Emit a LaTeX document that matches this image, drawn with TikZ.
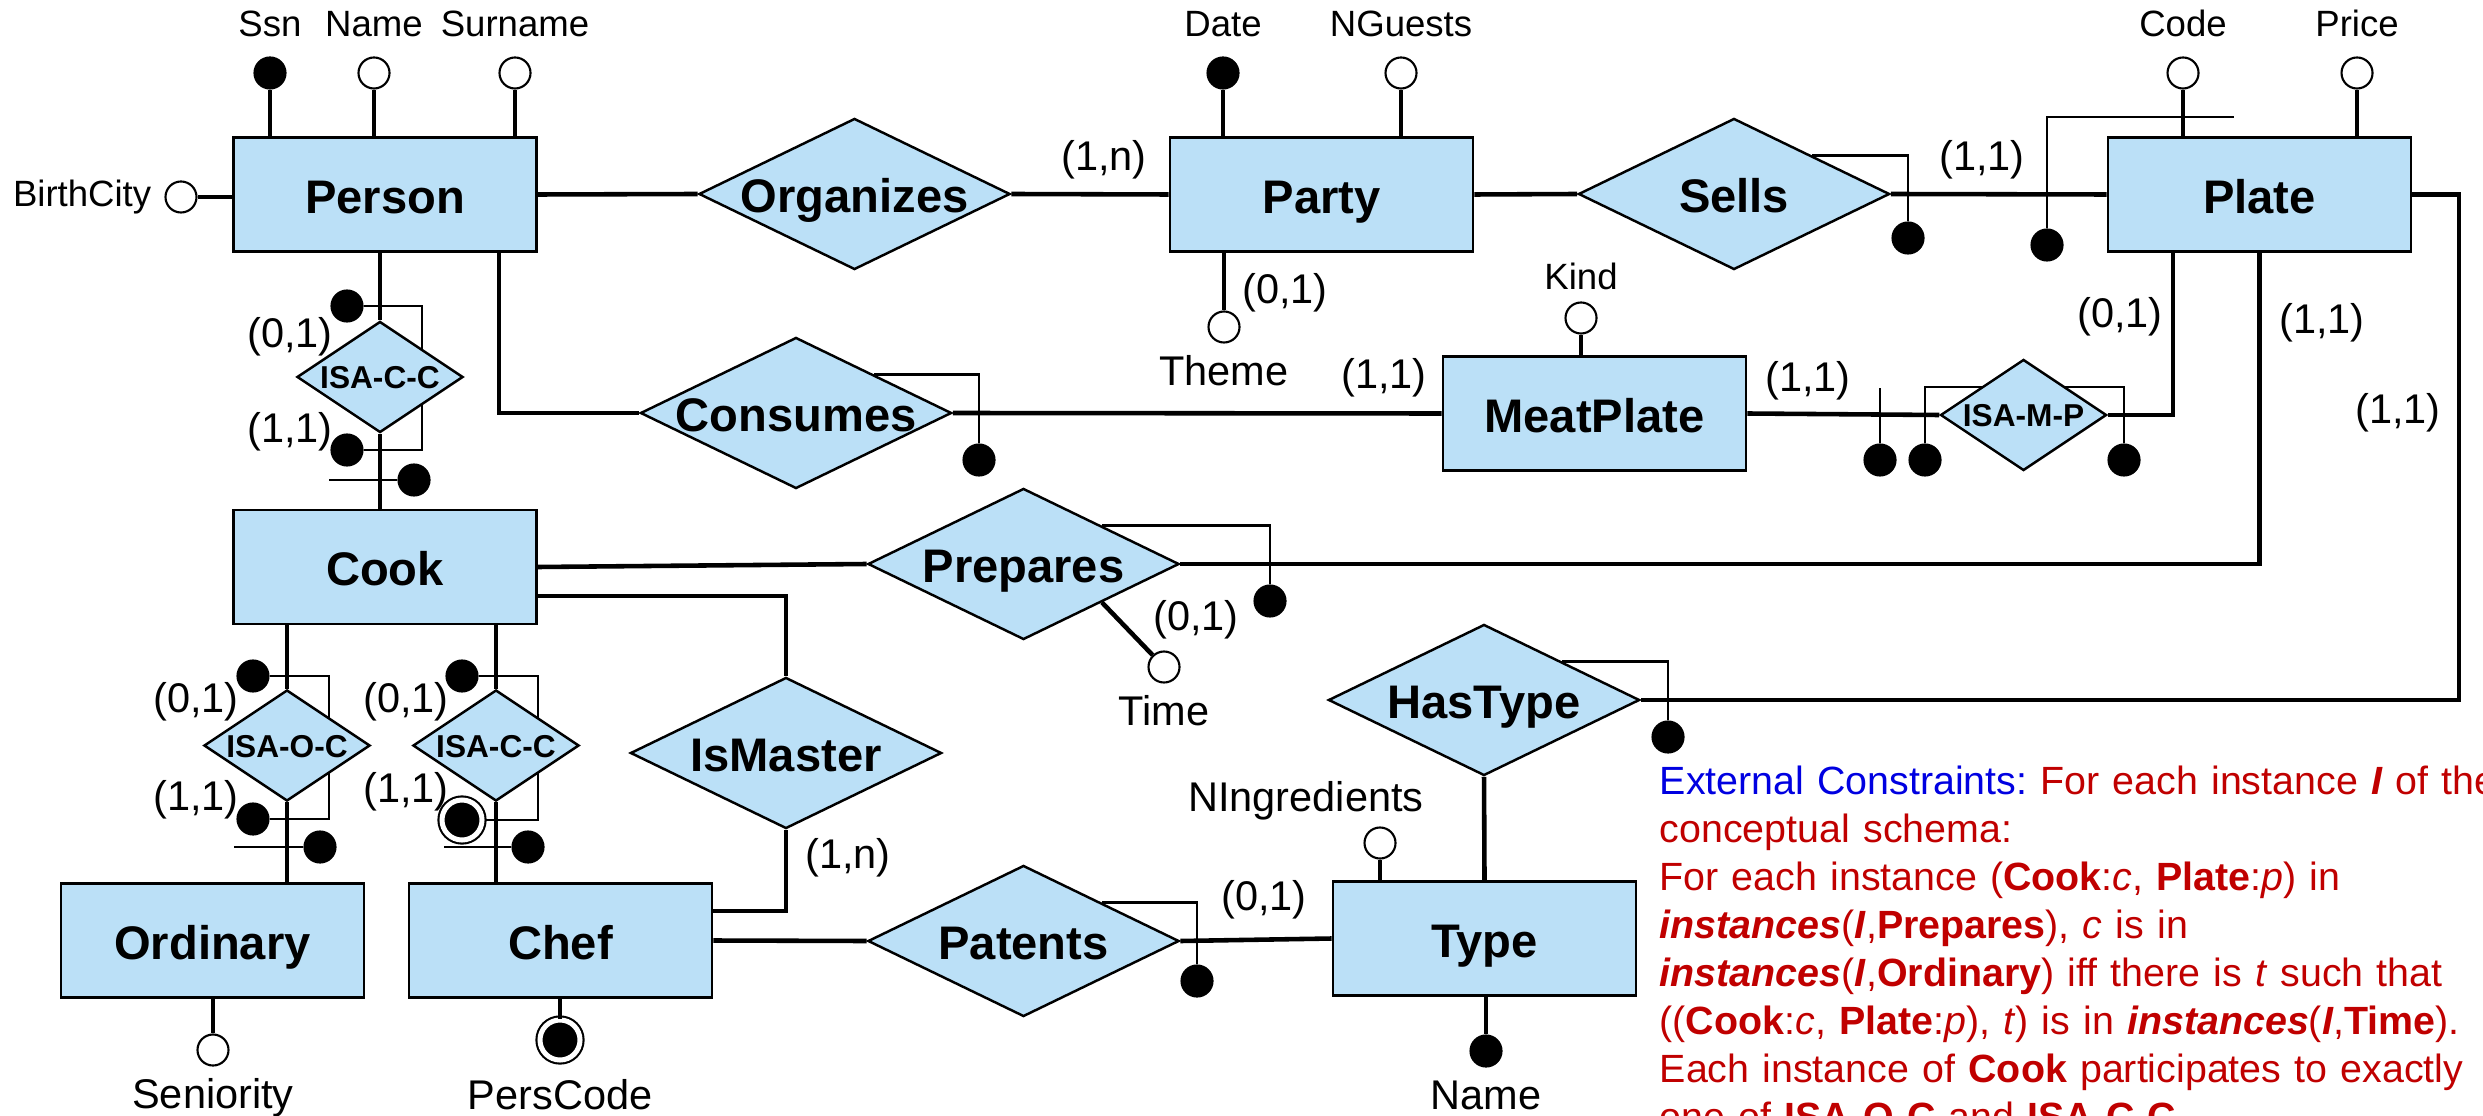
\documentclass[tikz,border=0pt]{standalone}
\usepackage{fontspec}
\setmainfont{Liberation Sans}
\usepackage{xcolor}
\usetikzlibrary{shapes.geometric}
\definecolor{erfill}{RGB}{187,224,247}
\definecolor{notered}{RGB}{192,0,0}
\definecolor{noteblue}{RGB}{0,0,225}
\newcommand{\entfont}{\fontsize{13.4pt}{16pt}\selectfont\bfseries}
\newcommand{\isafont}{\fontsize{9pt}{11pt}\selectfont\bfseries}
\newcommand{\attrfont}{\fontsize{10.4pt}{12pt}\selectfont}
\newcommand{\cardfont}{\fontsize{11.8pt}{14pt}\selectfont}
\newcommand{\notefont}{\fontsize{11.2pt}{13.66pt}\selectfont\frenchspacing}
\pgfdeclarelayer{background}
\pgfsetlayers{background,main}
\tikzset{
	entity/.style={draw,fill=erfill,line width=0.7pt,minimum width=3.03cm,minimum height=1.14cm,inner sep=0pt,text height=0.42cm,text depth=0.044cm,font=\entfont},%
	relation/.style={diamond,draw,fill=erfill,line width=0.7pt,minimum width=3.11cm,minimum height=1.51cm,inner sep=0pt,text height=0.42cm,text depth=0.044cm,font=\entfont},%
	isarel/.style={relation,minimum width=1.66cm,minimum height=1.11cm,text height=0.235cm,text depth=0cm,font=\isafont},%
	attribute/.style={circle,draw,fill=white,line width=0.6pt,minimum size=0.31cm,inner sep=0pt},%
	keyattr/.style={attribute,fill=black},%
	extkey/.style={keyattr,minimum size=0.4cm,double,double distance=0.05cm},%
	link/.style={line width=1.3pt},%
	bracket/.style={line width=0.7pt},%
	card/.style={font=\cardfont,inner sep=0pt},%
	toplabel/.style={font=\attrfont,text height=0.26cm,text depth=0.075cm,inner sep=1pt,label distance=0.085cm},%
	botlabel/.style={font=\cardfont,text height=0.3cm,text depth=0.085cm,inner sep=1pt,label distance=0.075cm},%
	note/.style={font=\notefont,text=notered,align=left,text width=9cm,inner sep=0pt},%
}

\begin{document}
\begin{tikzpicture}[x=0.01cm,y=-0.01cm]
	\useasboundingbox (0,0) rectangle (2483,1116);
	\clip (0,0) rectangle (2483,1116);
	\node[entity] (person) at (385,194.5) {Person};
	\node[entity] (party) at (1321.5,194.5) {Party};
	\node[entity] (plate) at (2259.5,194.5) {Plate};
	\node[entity] (meatplate) at (1594.5,413.5) {MeatPlate};
	\node[entity] (cook) at (385,567) {Cook};
	\node[entity] (ordinary) at (212.5,940.5) {Ordinary};
	\node[entity] (chef) at (560.5,940.5) {Chef};
	\node[entity] (type) at (1484.5,938.5) {Type};
	\node[relation] (organizes) at (854.5,194) {\makebox[0pt]{Organizes}};
	\node[relation] (sells) at (1734,194) {\makebox[0pt]{Sells}};
	\node[relation] (consumes) at (796,413) {\makebox[0pt]{Consumes}};
	\node[relation] (prepares) at (1023.5,564) {\makebox[0pt]{Prepares}};
	\node[relation] (hastype) at (1484,700) {\makebox[0pt]{HasType}};
	\node[relation] (ismaster) at (786,753) {\makebox[0pt]{IsMaster}};
	\node[relation] (patents) at (1023.5,941) {\makebox[0pt]{Patents}};
	\node[isarel] (isapc) at (380,377) {\makebox[0pt]{ISA-C-C}};
	\node[isarel] (isaoc) at (287,745.5) {\makebox[0pt]{ISA-O-C}};
	\node[isarel] (isacc) at (496,745.5) {\makebox[0pt]{ISA-C-C}};
	\node[isarel] (isamp) at (2023.5,415) {\makebox[0pt]{ISA-M-P}};
	\node[keyattr,label={[toplabel]above:Ssn}] (ssn) at (270,73) {};
	\node[attribute,label={[toplabel]above:Name}] (name) at (374,73) {};
	\node[attribute,label={[toplabel]above:Surname}] (surname) at (515,73) {};
	\node[attribute,label={[toplabel,label distance=0.09cm]left:BirthCity}] (birthcity) at (181,197) {};
	\node[keyattr,label={[toplabel]above:Date}] (date) at (1223,73) {};
	\node[attribute,label={[toplabel]above:NGuests}] (nguests) at (1401,73) {};
	\node[attribute,label={[botlabel]below:Theme}] (theme) at (1224,327) {};
	\node[attribute,label={[toplabel]above:Code}] (code) at (2183,73) {};
	\node[attribute,label={[toplabel]above:Price}] (price) at (2357,73) {};
	\node[attribute,label={[toplabel,label distance=0pt]above:Kind}] (kind) at (1581,318) {};
	\node[attribute,label={[botlabel]below:Time}] (time) at (1164,667) {};
	\node[attribute,label={[botlabel,label distance=0.02cm,xshift=-0.74cm]above:NIngredients}] (ningredients) at (1380,843) {};
	\node[keyattr,label={[botlabel]below:Name}] (typename) at (1486,1051) {};
	\node[attribute,label={[botlabel]below:Seniority}] (seniority) at (213,1050) {};
	\node[extkey,label={[botlabel,label distance=0.14cm]below:PersCode}] (perscode) at (560,1040) {};
	\node[keyattr] (sellsdot) at (1908,238) {};
	\node[keyattr] (platedot) at (2047,245) {};
	\node[keyattr] (consdot) at (979,460) {};
	\node[keyattr] (prepdot) at (1270,601) {};
	\node[keyattr] (hasdot) at (1668,737) {};
	\node[keyattr] (patdot) at (1197,981) {};
	\node[keyattr] (mpdot) at (1880,460) {};
	\node[keyattr] (isampa) at (1925,460) {};
	\node[keyattr] (isampb) at (2124,460) {};
	\node[keyattr] (isapca) at (347,306) {};
	\node[keyattr] (isapcb) at (347,450) {};
	\node[keyattr] (isapcbar) at (414,480) {};
	\node[keyattr] (isaoca) at (253,676) {};
	\node[keyattr] (isaocb) at (253,819) {};
	\node[keyattr] (isaocbar) at (320,847) {};
	\node[keyattr] (isacca) at (462,676) {};
	\node[extkey] (isaccb) at (462,820) {};
	\node[keyattr] (isaccbar) at (528,847) {};
	\coordinate (platekey) at (2234,117);
	\coordinate (platecorner) at (2459,194.5);
	\begin{pgfonlayer}{background}
		\draw[bracket] (sells.north east) -| (sellsdot);
		\draw[bracket] (consumes.north east) -| (consdot);
		\draw[bracket] (prepares.north east) -| (prepdot);
		\draw[bracket] (hastype.north east) -| (hasdot);
		\draw[bracket] (patents.north east) -| (patdot);
		\draw[bracket] (platedot) |- (platekey);
		\draw[bracket] (mpdot) -- ++(0,-72);
		\draw[bracket] (isampa) -- ++(0,-73) -| (isampb);
		\draw[bracket] (isapca) -- ++(75,0) |- (isapcb);
		\draw[bracket] (isapcbar) -- ++(-85,0);
		\draw[bracket] (isaoca) -- ++(76,0) |- (isaocb);
		\draw[bracket] (isaocbar) -- ++(-86,0);
		\draw[bracket] (isacca) -- ++(76,0) |- (isaccb);
		\draw[bracket] (isaccbar) -- ++(-84,0);
	\end{pgfonlayer}
	\draw[link] (person.east) -- (organizes.west);
	\draw[link] (organizes.east) -- (party.west);
	\draw[link] (party.east) -- (sells.west);
	\draw[link] (sells.east) -- (plate.west);
	\draw[link] ([xshift=1.14cm]person.south) |- (consumes.west);
	\draw[link] (consumes.east) -- (meatplate.west);
	\draw[link] (meatplate.east) -- (isamp.west);
	\draw[link] (isamp.east) -| ([xshift=-0.865cm]plate.south);
	\draw[link] (person.south -| isapc.north) -- (isapc.north);
	\draw[link] (isapc.south) -- (cook.north -| isapc.south);
	\draw[link] (cook.east) -- (prepares.west);
	\draw[link] (prepares.east) -| (plate.south);
	\draw[link] ([yshift=-0.29cm]cook.east) -| (ismaster.north);
	\draw[link] (ismaster.south) |- ([yshift=0.295cm]chef.east);
	\draw[link] (chef.east) -- (patents.west);
	\draw[link] (patents.east) -- (type.west);
	\draw[link] (hastype.south) -- (type.north);
	\draw[link] (plate.east) -- (platecorner) |- (hastype.east);
	\draw[link] (cook.south -| isaoc.north) -- (isaoc.north);
	\draw[link] (isaoc.south) -- (ordinary.north -| isaoc.south);
	\draw[link] (cook.south -| isacc.north) -- (isacc.north);
	\draw[link] (isacc.south) -- (chef.north -| isacc.south);
	\draw[link] (ssn) -- (ssn |- person.north);
	\draw[link] (name) -- (name |- person.north);
	\draw[link] (surname) -- (surname |- person.north);
	\draw[link] (birthcity) -- (birthcity -| person.west);
	\draw[link] (date) -- (date |- party.north);
	\draw[link] (nguests) -- (nguests |- party.north);
	\draw[link] (theme) -- (theme |- party.south);
	\draw[link] (code) -- (code |- plate.north);
	\draw[link] (price) -- (price |- plate.north);
	\draw[link] (kind) -- (kind |- meatplate.north);
	\draw[link] (prepares.south east) -- (time);
	\draw[link] (ningredients) -- (ningredients |- type.north);
	\draw[link] (typename) -- (typename |- type.south);
	\draw[link] (seniority) -- (seniority |- ordinary.south);
	\draw[link] (perscode) -- (perscode |- chef.south);
	\node[card] (orgcard) at (1104,160) {(1,n)};
	\node[card] (themecard) at (1285,293) {(0,1)};
	\node[card] (sellscard) at (1982,160) {(1,1)};
	\node[card] (conscard) at (1384,378) {(1,1)};
	\node[card] (mpcard) at (1808,381) {(1,1)};
	\node[card] (isampcard) at (2120,317) {(0,1)};
	\node[card] (prepcard) at (2322,323) {(1,1)};
	\node[card] (hascard) at (2398,413) {(1,1)};
	\node[card] (isapctop) at (290,337) {(0,1)};
	\node[card] (isapcbot) at (290,432) {(1,1)};
	\node[card] (isaoctop) at (196,702) {(0,1)};
	\node[card] (isaocbot) at (196,800) {(1,1)};
	\node[card] (isacctop) at (406,702) {(0,1)};
	\node[card] (isaccbot) at (406,792) {(1,1)};
	\node[card] (timecard) at (1196,620) {(0,1)};
	\node[card] (mastercard) at (848,858) {(1,n)};
	\node[card] (patcard) at (1264,900) {(0,1)};
	\node[note,anchor=north west] (constraints) at (1659,765) {\textcolor{noteblue}{External Constraints:} For each instance \textbf{\textit{I}} of the\\
		conceptual schema:\\
		For each instance (\textbf{Cook}:\textit{c}, \textbf{Plate}:\textit{p}) in\\
		\textbf{\textit{instances}}(\textbf{\textit{I}},\textbf{Prepares}), \textit{c} is in\\
		\textbf{\textit{instances}}(\textbf{\textit{I}},\textbf{Ordinary}) iff there is \textit{t} such that\\
		((\textbf{Cook}:\textit{c}, \textbf{Plate}:\textit{p}), \textit{t}) is in \textbf{\textit{instances}}(\textbf{\textit{I}},\textbf{Time}).\\
		Each instance of \textbf{Cook} participates to exactly\\
		one of \textbf{ISA-O-C} and \textbf{ISA-C-C}.};
\end{tikzpicture}
\end{document}
